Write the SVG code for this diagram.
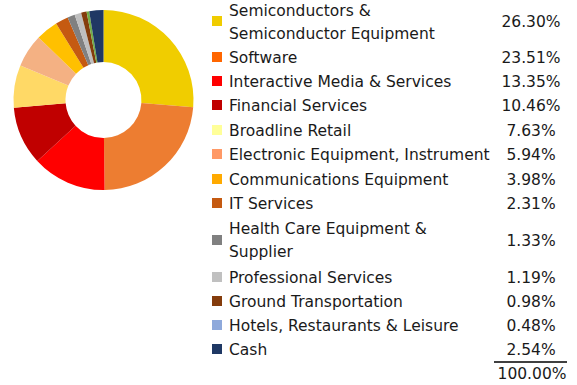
<svg xmlns="http://www.w3.org/2000/svg" width="577" height="385" viewBox="0 0 577 385">
<style>
text{font-family:"DejaVu Sans","Verdana",sans-serif;font-size:15.5px;fill:#1a1a1a}
.p{text-anchor:middle}
</style>
<rect width="577" height="385" fill="#fff"/>
<g id="donut">
<path id="s1" d="M103.5,10 A90,90 0 0 1 193.2,107.34 L141.37,103.1 A38,38 0 0 0 103.5,62 Z" fill="#F0CD00"/>
<path id="s2" d="M193.2,107.34 A90,90 0 0 1 104.57,189.99 L103.95,138 A38,38 0 0 0 141.37,103.1 Z" fill="#ED7D31"/>
<path id="s3" d="M104.57,189.99 A90,90 0 0 1 37.27,160.94 L75.54,125.73 A38,38 0 0 0 103.95,138 Z" fill="#FF0000"/>
<path id="s4" d="M37.27,160.94 A90,90 0 0 1 13.84,107.79 L65.64,103.29 A38,38 0 0 0 75.54,125.73 Z" fill="#C00000"/>
<path id="s5" d="M13.84,107.79 A90,90 0 0 1 20.35,65.56 L68.39,85.46 A38,38 0 0 0 65.64,103.29 Z" fill="#FFD966"/>
<path id="s6" d="M20.35,65.56 A90,90 0 0 1 38.63,37.61 L76.11,73.66 A38,38 0 0 0 68.39,85.46 Z" fill="#F4B183"/>
<path id="s7" d="M38.63,37.61 A90,90 0 0 1 56.09,23.5 L83.48,67.7 A38,38 0 0 0 76.11,73.66 Z" fill="#FFC000"/>
<path id="s8" d="M56.09,23.5 A90,90 0 0 1 67.65,17.45 L88.36,65.14 A38,38 0 0 0 83.48,67.7 Z" fill="#C55A11"/>
<path id="s9" d="M67.65,17.45 A90,90 0 0 1 74.67,14.74 L91.33,64 A38,38 0 0 0 88.36,65.14 Z" fill="#808080"/>
<path id="s10" d="M74.67,14.74 A90,90 0 0 1 81.12,12.83 L94.05,63.19 A38,38 0 0 0 91.33,64 Z" fill="#BFBFBF"/>
<path id="s11" d="M81.12,12.83 A90,90 0 0 1 86.52,11.62 L96.33,62.68 A38,38 0 0 0 94.05,63.19 Z" fill="#843C0C"/>
<path id="s12" d="M86.52,11.62 A90,90 0 0 1 89.2,11.14 L97.46,62.48 A38,38 0 0 0 96.33,62.68 Z" fill="#70AD47"/>
<path id="s13" d="M89.2,11.14 A90,90 0 0 1 103.5,10 L103.5,62 A38,38 0 0 0 97.46,62.48 Z" fill="#203864"/>
</g>
<g id="legend">
<g id="l1"><rect x="212" y="16" width="10" height="10" fill="#F0CC00"/><text x="229" y="16">Semiconductors &amp;</text><text x="229" y="39">Semiconductor Equipment</text><text class="p" x="531" y="27">26.30%</text></g>
<g id="l2"><rect x="212" y="52" width="10" height="10" fill="#FF6600"/><text x="229" y="63">Software</text><text class="p" x="531" y="63">23.51%</text></g>
<g id="l3"><rect x="212" y="76" width="10" height="10" fill="#FF0000"/><text x="229" y="87">Interactive Media &amp; Services</text><text class="p" x="531" y="87">13.35%</text></g>
<g id="l4"><rect x="212" y="100" width="10" height="10" fill="#C00000"/><text x="229" y="111">Financial Services</text><text class="p" x="531" y="111">10.46%</text></g>
<g id="l5"><rect x="212" y="125" width="10" height="10" fill="#FFFF99"/><text x="229" y="136">Broadline Retail</text><text class="p" x="531" y="136">7.63%</text></g>
<g id="l6"><rect x="212" y="149" width="10" height="10" fill="#FF9966"/><text x="229" y="160">Electronic Equipment, Instrument</text><text class="p" x="531" y="160">5.94%</text></g>
<g id="l7"><rect x="212" y="174" width="10" height="10" fill="#FFAA00"/><text x="229" y="185">Communications Equipment</text><text class="p" x="531" y="185">3.98%</text></g>
<g id="l8"><rect x="212" y="198" width="10" height="10" fill="#C55A11"/><text x="229" y="209">IT Services</text><text class="p" x="531" y="209">2.31%</text></g>
<g id="l9"><rect x="212" y="235" width="10" height="10" fill="#808080"/><text x="229" y="234">Health Care Equipment &amp;</text><text x="229" y="257">Supplier</text><text class="p" x="531" y="246">1.33%</text></g>
<g id="l10"><rect x="212" y="272" width="10" height="10" fill="#C0C0C0"/><text x="229" y="283">Professional Services</text><text class="p" x="531" y="283">1.19%</text></g>
<g id="l11"><rect x="212" y="296" width="10" height="10" fill="#843C0C"/><text x="229" y="307">Ground Transportation</text><text class="p" x="531" y="307">0.98%</text></g>
<g id="l12"><rect x="212" y="320" width="10" height="10" fill="#8EA9DB"/><text x="229" y="331">Hotels, Restaurants &amp; Leisure</text><text class="p" x="531" y="331">0.48%</text></g>
<g id="l13"><rect x="212" y="344" width="10" height="10" fill="#1F3864"/><text x="229" y="355">Cash</text><text class="p" x="531" y="355">2.54%</text></g>
<line x1="494" y1="362" x2="567" y2="362" stroke="#000" stroke-width="1.5"/>
<text class="p" x="532" y="379">100.00%</text>
</g>
</svg>
